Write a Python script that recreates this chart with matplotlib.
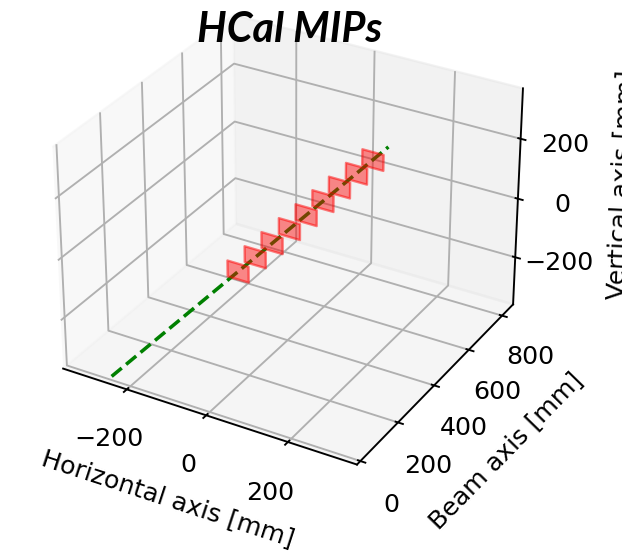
import numpy as np
import matplotlib
matplotlib.use("Agg")
import matplotlib.pyplot as plt
from mpl_toolkits.mplot3d.art3d import Poly3DCollection

# HCal layers hit by the MIP track (positions in mm)
layer_y = [380, 433, 485, 538, 590, 643, 695, 748, 800]
hit_x = [-116, -98, -80, -61, -43, -25, -7, 12, 30]
hit_z = [-164, -138, -112, -86, -60, -34, -9, 17, 43]

# fitted track, two end points
track_x = [-248, 47]
track_y = [0, 850]
track_z = [-352, 68]

cell_size = 54

plt.rcParams["font.family"] = "DejaVu Sans"
plt.rcParams["font.size"] = 10.7
plt.rcParams["axes3d.automargin"] = True

DPI = 170
fig = plt.figure(figsize=(622 / DPI, 556 / DPI), dpi=DPI)
ax = fig.add_axes([0.038, 0.105, 0.841, 0.941], projection="3d")
ax.computed_zorder = False

ax.plot(track_x, track_y, track_z, color="green", linestyle="--", linewidth=1.5, zorder=1)

half = cell_size / 2
squares = []
for x, y, z in zip(hit_x, layer_y, hit_z):
    squares.append([(x - half, y, z - half), (x + half, y, z - half),
                    (x + half, y, z + half), (x - half, y, z + half)])
cells = Poly3DCollection(squares, facecolor=(1, 0, 0, 0.45), edgecolor=(1, 0, 0, 0.5), linewidth=1)
cells.set_zorder(2)
ax.add_collection3d(cells)

ax.set_xlim(-350, 350)
ax.set_ylim(0, 850)
ax.set_zlim(-350, 350)
ax.set_xticks([-200, 0, 200])
ax.set_yticks([0, 200, 400, 600, 800])
ax.set_zticks([-200, 0, 200])

ax.set_xlabel("Horizontal axis [mm]")
ax.set_ylabel("Beam axis [mm]", labelpad=5.5)
ax.set_zlabel("Vertical axis [mm]", labelpad=6.3)

fig.text(290 / 622, 1 - 30 / 556, "HCal MIPs", ha="center", va="center",
         fontsize=17.6, fontweight="bold", fontstyle="italic", family=["Lato", "DejaVu Sans"])

fig.savefig("out.png", dpi=DPI)
